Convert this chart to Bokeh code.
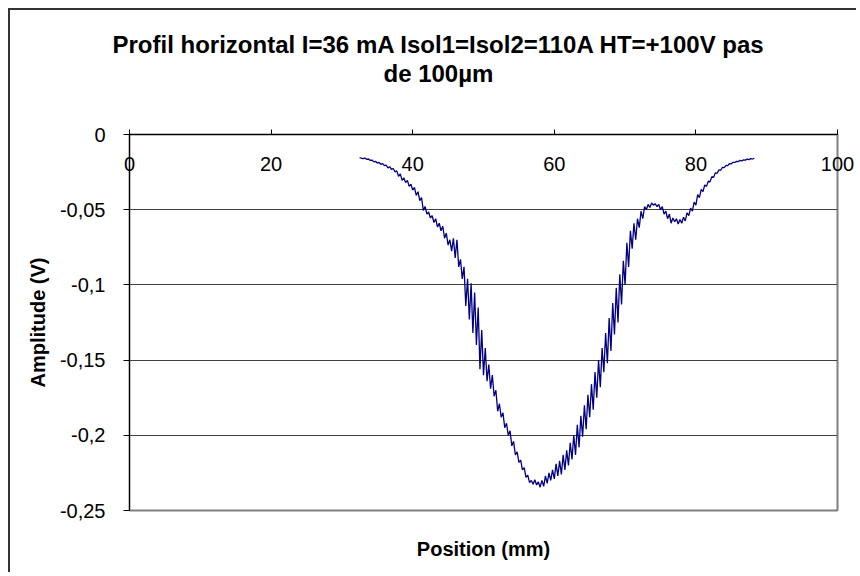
from bokeh.plotting import figure
from bokeh.models import Range1d, LinearAxis, FixedTicker, Title
from bokeh.embed import file_html
from bokeh.resources import INLINE

# ---- data ----
amplitude_v = [
    -0.0153, -0.0158,
    -0.0160, -0.0157, -0.0165, -0.0163,
    -0.0172, -0.0170, -0.0182, -0.0178,
    -0.0190, -0.0186, -0.0198, -0.0194,
    -0.0207, -0.0203, -0.0222, -0.0214,
    -0.0232, -0.0226, -0.0248, -0.0242,
    -0.0278, -0.0262, -0.0305, -0.0288,
    -0.0320, -0.0305, -0.0345, -0.0330,
    -0.0370, -0.0352, -0.0405, -0.0380,
    -0.0440, -0.0420, -0.0505, -0.0478,
    -0.0530, -0.0515, -0.0555, -0.0540,
    -0.0585, -0.0560, -0.0615, -0.0590,
    -0.0640, -0.0610, -0.0690, -0.0655,
    -0.0735, -0.0700, -0.0775, -0.0690,
    -0.0820, -0.0700, -0.0880, -0.0830,
    -0.0960, -0.0880, -0.1140, -0.0960,
    -0.1230, -0.0990, -0.1320, -0.1050,
    -0.1400, -0.1150, -0.1560, -0.1300,
    -0.1600, -0.1420, -0.1640, -0.1530,
    -0.1690, -0.1600, -0.1740, -0.1700,
    -0.1840, -0.1790, -0.1880, -0.1850,
    -0.1950, -0.1920, -0.2000, -0.1970,
    -0.2070, -0.2040, -0.2130, -0.2110,
    -0.2180, -0.2165, -0.2230, -0.2215,
    -0.2280, -0.2265, -0.2315, -0.2300,
    -0.2325, -0.2295, -0.2330, -0.2310,
    -0.2345, -0.2300, -0.2340, -0.2270,
    -0.2320, -0.2250, -0.2300, -0.2230,
    -0.2290, -0.2190, -0.2270, -0.2170,
    -0.2260, -0.2130, -0.2230, -0.2100,
    -0.2200, -0.2050, -0.2160, -0.2000,
    -0.2130, -0.1930, -0.2080, -0.1870,
    -0.2010, -0.1800, -0.1960, -0.1730,
    -0.1880, -0.1660, -0.1830, -0.1580,
    -0.1750, -0.1500, -0.1680, -0.1420,
    -0.1580, -0.1320, -0.1520, -0.1220,
    -0.1440, -0.1120, -0.1330, -0.1020,
    -0.1250, -0.0930, -0.1130, -0.0840,
    -0.1000, -0.0720, -0.0880, -0.0640,
    -0.0760, -0.0590, -0.0700, -0.0560,
    -0.0620, -0.0510, -0.0560, -0.0480,
    -0.0500, -0.0465, -0.0485, -0.0455,
    -0.0470, -0.0460, -0.0480, -0.0465,
    -0.0500, -0.0480, -0.0530, -0.0510,
    -0.0560, -0.0530, -0.0590, -0.0555,
    -0.0580, -0.0560, -0.0595, -0.0565,
    -0.0590, -0.0550, -0.0575, -0.0520,
    -0.0540, -0.0490, -0.0510, -0.0450,
    -0.0470, -0.0400, -0.0420, -0.0365,
    -0.0380, -0.0335, -0.0345, -0.0310,
    -0.0315, -0.0280, -0.0285, -0.0255,
    -0.0258, -0.0235, -0.0238, -0.0218,
    -0.0220, -0.0205, -0.0207, -0.0193,
    -0.0195, -0.0185, -0.0186, -0.0178,
    -0.0180, -0.0172, -0.0175, -0.0168,
    -0.0170, -0.0164, -0.0167, -0.0160,
    -0.0163, -0.0158,
]
position_start_mm = 32.5
position_step_mm = 0.25
position_mm = [round(position_start_mm + position_step_mm * i, 2) for i in range(len(amplitude_v))]

x_ticks = [0, 20, 40, 60, 80, 100]
x_tick_labels = ["0", "20", "40", "60", "80", "100"]
y_ticks = [-0.25, -0.2, -0.15, -0.1, -0.05, 0]
y_tick_labels = ["-0,25", "-0,2", "-0,15", "-0,1", "-0,05", "0"]
grid_ticks = [-0.2, -0.15, -0.1, -0.05]

title_line1 = "Profil horizontal I=36 mA Isol1=Isol2=110A HT=+100V pas"
title_line2 = "de 100µm"
x_label = "Position (mm)"
y_label = "Amplitude (V)"

FONT = "Liberation Sans"

p = figure(width=848, height=564, output_backend="svg", toolbar_location=None, tools="",
           x_range=Range1d(0, 100), y_range=Range1d(-0.25, 0),
           x_axis_location="above",
           min_border_left=119, min_border_right=21, min_border_top=124, min_border_bottom=64)

p.background_fill_color = "white"
p.border_fill_color = "white"
p.outline_line_color = "#808080"
p.outline_line_width = 2
p.styles = {"margin-left": "8px", "margin-top": "8px",
            "border-left": "2px solid #333333", "border-top": "2px solid #333333"}

# x axis crossing at 0 (top of the plot); its labels sit just below the line
xa = p.xaxis[0]
xa.ticker = FixedTicker(ticks=x_ticks)
xa.major_label_overrides = dict(zip(x_ticks, x_tick_labels))
xa.axis_line_color = "black"
xa.axis_line_width = 1
xa.major_tick_line_color = "black"
xa.major_tick_out = 5
xa.major_tick_in = 0
xa.minor_tick_line_color = None
xa.minor_tick_out = 0
xa.major_label_text_font = FONT
xa.major_label_text_font_size = "20px"
xa.major_label_text_color = "black"
xa.major_label_standoff = -41

# invisible spacer between the axis and the title
spacer = LinearAxis(ticker=FixedTicker(ticks=x_ticks))
spacer.axis_line_color = None
spacer.major_tick_line_color = None
spacer.major_tick_out = 48
spacer.major_tick_in = 0
spacer.minor_tick_line_color = None
spacer.minor_tick_out = 0
spacer.major_label_text_color = None
spacer.major_label_standoff = 0
p.add_layout(spacer, "above")

# two-line title, each line centred on the chart
t2 = Title(text=title_line2, align="left", offset=254, standoff=0,
           text_font=FONT, text_font_size="24px", text_font_style="bold", text_color="black")
t1 = Title(text=title_line1, align="left", offset=-17, standoff=0,
           text_font=FONT, text_font_size="24px", text_font_style="bold", text_color="black")
p.add_layout(t2, "above")
p.add_layout(t1, "above")

# y axis
ya = p.yaxis[0]
ya.ticker = FixedTicker(ticks=y_ticks)
ya.major_label_overrides = dict(zip(y_ticks, y_tick_labels))
ya.major_label_text_font = FONT
ya.major_label_text_font_size = "20px"
ya.major_label_text_color = "black"
ya.major_label_standoff = 18
ya.axis_line_color = "black"
ya.major_tick_line_color = "black"
ya.major_tick_out = 6
ya.major_tick_in = 0
ya.minor_tick_line_color = None
ya.axis_label = y_label
ya.axis_label_text_font = FONT
ya.axis_label_text_font_size = "20px"
ya.axis_label_text_font_style = "bold"
ya.axis_label_text_color = "black"
ya.axis_label_standoff = 8

# bottom axis carrying only the axis title
bx = LinearAxis(axis_label=x_label, ticker=FixedTicker(ticks=x_ticks))
bx.axis_line_color = None
bx.major_tick_line_color = None
bx.minor_tick_line_color = None
bx.major_tick_out = 0
bx.major_tick_in = 0
bx.major_label_text_font = FONT
bx.major_label_text_font_size = "20px"
bx.major_label_text_color = None
bx.major_label_standoff = 0
bx.axis_label_text_font = FONT
bx.axis_label_text_font_size = "20px"
bx.axis_label_text_font_style = "bold"
bx.axis_label_text_color = "black"
bx.axis_label_standoff = 27
p.add_layout(bx, "below")

# grid
p.xgrid.visible = False
p.ygrid.ticker = FixedTicker(ticks=grid_ticks)
p.ygrid.grid_line_color = "#404040"
p.ygrid.grid_line_width = 1

p.line(position_mm, amplitude_v, line_color="#000080", line_width=1.3)

open("out.html", "w").write(file_html(p, INLINE))
